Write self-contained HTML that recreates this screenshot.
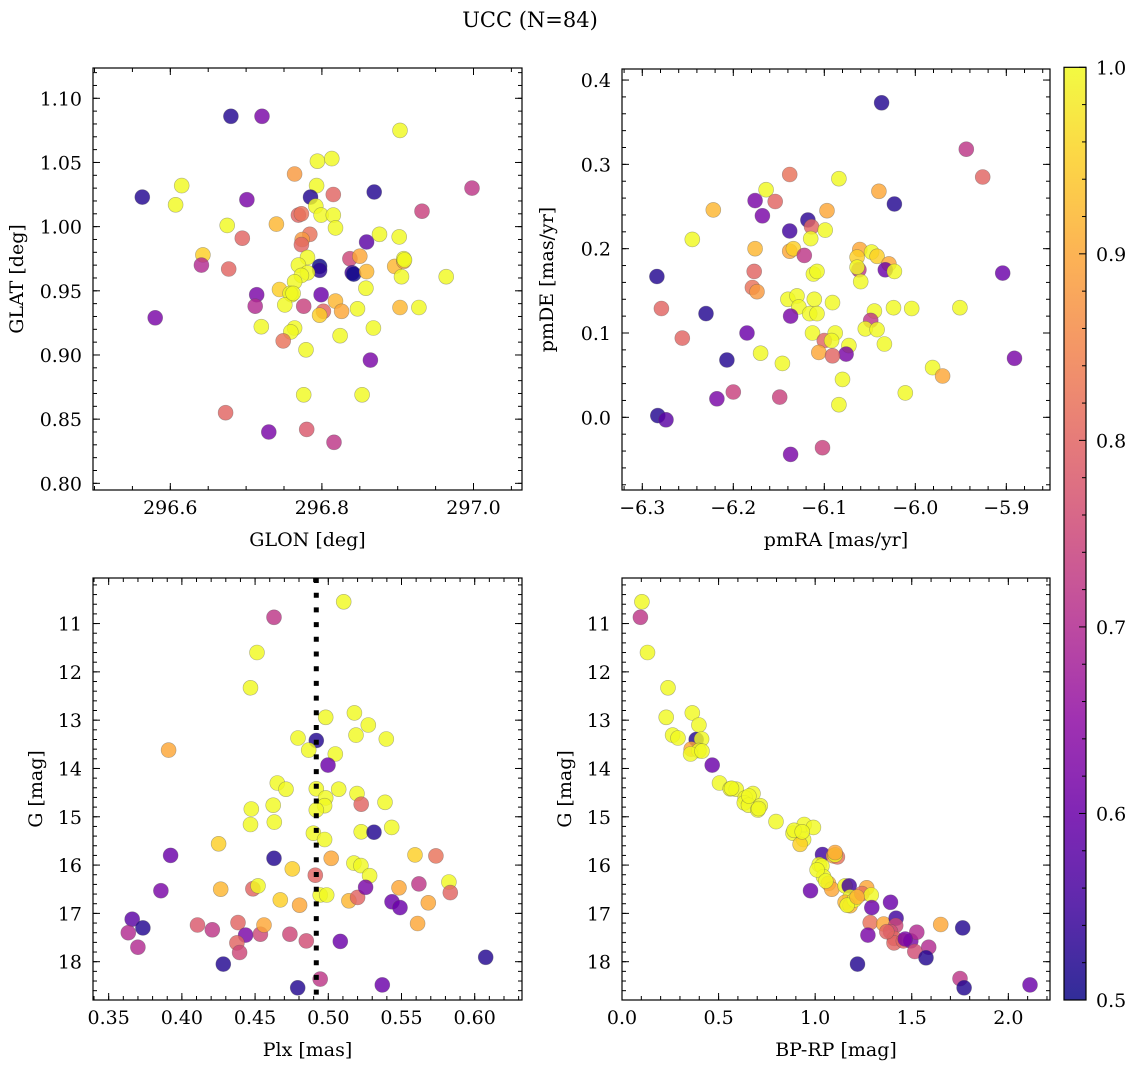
<!DOCTYPE html>
<html><head><meta charset="utf-8"><style>
html,body{margin:0;padding:0;background:#fff;}
svg{display:block;font-family:"DejaVu Serif","Liberation Serif",serif;}
</style></head><body>
<svg id="fig" width="1136" height="1067" viewBox="0 0 1136 1067" xmlns="http://www.w3.org/2000/svg">
<rect width="1136" height="1067" fill="#fff"/>
<text x="530" y="27" font-size="21" text-anchor="middle">UCC (N=84)</text>
</svg>
<script>
// ---------- Panel 1: GLON vs GLAT ----------
const glon = [296.680,296.721,296.903,296.794,296.813,296.764,296.615,296.793,296.563,296.607,296.701,296.785,296.815,296.869,296.998,296.792,296.769,296.773,296.799,296.815,296.818,296.932,296.675,296.740,296.695,296.784,296.774,296.773,296.859,296.876,296.902,296.643,296.641,296.677,296.781,296.769,296.797,296.797,296.781,296.773,296.764,296.837,296.850,296.840,296.842,296.859,296.896,296.908,296.908,296.905,296.964,296.744,296.760,296.758,296.858,296.714,296.799,296.712,296.751,296.776,296.802,296.797,296.818,296.826,296.847,296.903,296.928,296.580,296.720,296.764,296.759,296.749,296.824,296.868,296.779,296.864,296.776,296.853,296.673,296.730,296.780,296.816,296.909,296.762];
const glat = [1.086,1.086,1.075,1.051,1.053,1.041,1.032,1.032,1.023,1.017,1.021,1.023,1.025,1.027,1.030,1.016,1.009,1.010,1.009,1.009,0.999,1.012,1.001,1.002,0.991,0.994,0.990,0.986,0.988,0.994,0.992,0.978,0.970,0.967,0.976,0.970,0.969,0.966,0.964,0.962,0.957,0.975,0.977,0.964,0.963,0.965,0.969,0.973,0.975,0.961,0.961,0.951,0.947,0.948,0.952,0.947,0.947,0.938,0.939,0.938,0.934,0.931,0.942,0.934,0.936,0.937,0.937,0.929,0.922,0.921,0.918,0.911,0.915,0.921,0.904,0.896,0.869,0.869,0.855,0.840,0.842,0.832,0.974,0.948];
const prob1 = [.52,.62,1,1,1,.88,1,1,.52,1,.62,.52,.8,.52,.72,1,.8,.82,1,1,1,.74,1,.92,.8,.82,.88,.8,.58,1,1,.95,.7,.8,1,1,.5,.53,1,1,1,.75,.9,.55,.5,.92,.92,.9,1,1,1,.95,1,1,1,.62,.6,.7,1,.74,.8,.95,.92,.9,1,.92,1,.62,1,1,1,.82,1,1,1,.62,1,1,.8,.62,.78,.72,1,1];
// ---------- Panel 2: pmRA vs pmDE ----------
const pmra = [-6.037,-5.944,-5.926,-6.138,-6.084,-6.040,-6.023,-6.164,-6.176,-6.154,-6.222,-6.168,-6.118,-6.114,-6.097,-6.099,-6.138,-6.115,-6.245,-6.176,-6.138,-6.134,-6.122,-6.061,-6.048,-6.042,-6.064,-6.029,-6.033,-6.023,-6.062,-6.064,-6.060,-6.112,-6.108,-6.284,-6.177,-6.179,-6.174,-6.279,-6.230,-6.140,-6.130,-6.128,-6.111,-6.091,-6.137,-6.116,-6.108,-6.045,-6.024,-6.004,-5.951,-6.049,-6.055,-6.042,-6.034,-6.256,-6.185,-6.113,-6.088,-6.100,-6.092,-6.073,-6.076,-6.106,-6.091,-6.170,-6.146,-6.207,-6.080,-5.981,-5.970,-6.011,-5.904,-5.891,-6.200,-6.218,-6.149,-6.084,-6.283,-6.274,-6.137,-6.102];
const pmde = [0.373,0.318,0.285,0.288,0.283,0.268,0.253,0.270,0.257,0.256,0.246,0.239,0.234,0.226,0.245,0.222,0.221,0.212,0.211,0.200,0.197,0.200,0.192,0.199,0.196,0.191,0.190,0.182,0.175,0.173,0.175,0.178,0.161,0.170,0.173,0.167,0.173,0.154,0.149,0.129,0.123,0.140,0.144,0.131,0.140,0.136,0.120,0.123,0.123,0.126,0.130,0.129,0.130,0.115,0.105,0.104,0.087,0.094,0.100,0.100,0.100,0.091,0.091,0.085,0.075,0.077,0.073,0.076,0.064,0.068,0.045,0.059,0.049,0.029,0.171,0.070,0.030,0.022,0.024,0.015,0.002,-0.003,-0.044,-0.036];
const prob2 = [.52,.72,.8,.82,1,.9,.52,1,.62,.8,.92,.62,.53,.8,.9,1,.55,1,1,.92,.9,.95,.72,.9,1,.95,.95,.9,.6,1,.72,1,1,1,1,.52,.8,.82,.88,.8,.52,1,1,1,1,1,.62,1,1,1,1,1,1,.72,1,1,1,.8,.6,1,1,.8,1,1,.62,.9,.8,1,1,.52,1,1,.9,1,.6,.62,.74,.62,.74,1,.52,.58,.62,.74];
// ---------- Panel 3: Plx vs G ----------
const plx = [0.5105,0.4629,0.4513,0.4469,0.4982,0.5178,0.5273,0.5189,0.5396,0.4793,0.4918,0.4866,0.5048,0.4998,0.3909,0.4652,0.4711,0.4918,0.5071,0.4982,0.4975,0.4918,0.5196,0.5225,0.5387,0.4624,0.4474,0.4469,0.4631,0.4898,0.4975,0.5225,0.5312,0.5433,0.4251,0.3923,0.4629,0.5020,0.4754,0.4911,0.5175,0.5223,0.5282,0.5592,0.5735,0.3857,0.4265,0.4485,0.4520,0.4672,0.4804,0.4945,0.4989,0.5141,0.5200,0.5255,0.5435,0.5490,0.5483,0.5619,0.5683,0.5824,0.5833,0.5610,0.3661,0.3734,0.3634,0.3700,0.4107,0.4208,0.4383,0.4435,0.4536,0.4561,0.4376,0.4394,0.4283,0.4738,0.4850,0.5082,0.4791,0.4945,0.5369,0.6075];
const gmag3 = [10.55,10.87,11.60,12.33,12.94,12.85,13.10,13.31,13.39,13.37,13.42,13.62,13.70,13.93,13.62,14.30,14.43,14.42,14.43,14.61,14.77,14.86,14.52,14.74,14.70,14.76,14.84,15.16,15.11,15.34,15.47,15.31,15.32,15.22,15.56,15.80,15.86,15.86,16.08,16.21,15.96,16.01,16.22,15.79,15.81,16.53,16.50,16.49,16.43,16.72,16.83,16.62,16.62,16.74,16.67,16.46,16.76,16.88,16.47,16.39,16.78,16.35,16.57,17.21,17.12,17.30,17.40,17.70,17.24,17.34,17.19,17.45,17.43,17.24,17.61,17.81,18.05,17.43,17.57,17.58,18.54,18.36,18.48,17.91];
const prob3 = [1,.72,1,1,1,1,1,1,1,1,.52,1,1,.6,.9,1,1,1,1,1,1,1,1,.8,1,1,1,1,1,1,1,1,.52,1,.95,.6,.52,.9,.95,.8,1,1,1,.95,.82,.62,.92,.8,1,.95,.9,1,1,.92,.8,.62,.6,.6,.9,.72,.9,1,.8,.9,.58,.52,.7,.7,.78,.72,.8,.62,.75,.9,.8,.75,.52,.75,.76,.6,.52,.72,.6,.52];
const plxLine = [0.4918];
// ---------- Panel 4: BP-RP vs G ----------
const bprp = [0.103,0.095,0.132,0.238,0.229,0.364,0.398,0.262,0.290,0.384,0.412,0.358,0.398,0.355,0.467,0.505,0.560,0.591,0.678,0.638,0.633,0.655,0.716,0.703,0.797,0.943,0.991,0.885,0.940,0.922,1.038,1.095,1.115,1.021,1.035,1.043,1.069,1.086,0.976,1.155,1.176,1.181,1.155,1.181,1.203,1.267,1.242,1.290,1.293,1.390,1.285,1.355,1.419,1.417,1.390,1.410,1.408,1.457,1.495,1.526,1.273,1.588,1.516,1.574,1.219,1.650,1.764,1.750,1.771,2.112,0.414,0.567,0.657,0.707,0.891,0.933,1.010,1.055,1.166,1.103,1.217,1.371,1.466,1.103];
const gmag4 = [10.55,10.87,11.60,12.33,12.94,12.85,13.10,13.31,13.37,13.40,13.39,13.60,13.63,13.70,13.93,14.30,14.42,14.43,14.52,14.61,14.71,14.76,14.77,14.86,15.10,15.16,15.22,15.34,15.47,15.57,15.78,15.81,15.83,15.99,16.02,16.24,16.38,16.50,16.53,16.43,16.43,16.66,16.77,16.84,16.72,16.47,16.59,16.62,16.88,16.77,17.19,17.22,17.10,17.25,17.38,17.52,17.61,17.57,17.57,17.39,17.45,17.70,17.79,17.92,18.05,17.23,17.30,18.35,18.54,18.48,13.64,14.41,14.57,14.83,15.28,15.31,16.10,16.33,16.83,15.79,16.66,17.38,17.53,15.74];
const prob4 = [1,.72,1,1,1,1,1,1,1,.52,1,.9,1,1,.6,1,1,1,1,1,1,1,1,1,1,1,1,1,1,.95,.55,.9,.82,1,1,1,.92,.9,.6,1,.55,1,.92,.92,1,.9,.82,1,.6,.6,.82,.9,.55,.75,.76,.8,.8,.8,.62,.7,.62,.7,.76,.52,.52,.9,.52,.72,.52,.6,1,1,1,1,1,1,1,1,1,1,.92,.8,.62,.9];
// ---------- tick labels ----------
const p1xTicks = [296.6,296.8,297.0];
const p1yTicks = [0.80,0.85,0.90,0.95,1.00,1.05,1.10];
const p2xTicks = [-6.3,-6.2,-6.1,-6.0,-5.9];
const p2yTicks = [0.0,0.1,0.2,0.3,0.4];
const p3xTicks = [0.35,0.40,0.45,0.50,0.55,0.60];
const gTicks = [11,12,13,14,15,16,17,18];
const p4xTicks = [0.0,0.5,1.0,1.5,2.0];
const cbTicks = [0.5,0.6,0.7,0.8,0.9,1.0];

const NS = 'http://www.w3.org/2000/svg';
const svg = document.getElementById('fig');
const FS = 19;
function mk(tag, attrs, parent){const e=document.createElementNS(NS,tag);for(const k in attrs)e.setAttribute(k,attrs[k]);(parent||svg).appendChild(e);return e;}
function lin(d0,d1,r0,r1){return v=>r0+(v-d0)*(r1-r0)/(d1-d0);}
const PL=[[13,8,135],[65,4,157],[106,0,168],[143,13,164],[177,42,144],[204,71,120],[225,100,98],[242,132,75],[252,166,54],[252,206,37],[240,249,33]];
function plasma(t){t=Math.max(0,Math.min(1,t));const s=t*10,i=Math.min(9,Math.floor(s)),f=s-i;const a=PL[i],b=PL[i+1];return 'rgb('+[0,1,2].map(k=>Math.round(a[k]+(b[k]-a[k])*f)).join(',')+')';}
function pc(p){return plasma((p-0.5)/0.5);}
function fmt(v,d){return v.toFixed(d).replace('-','\u2212');}

function panel(o){
  const g=mk('g',{});
  
  
  const sx=lin(o.xd[0],o.xd[1],o.L,o.R), sy=lin(o.yd[0],o.yd[1],o.B,o.T);
  const clip=mk('clipPath',{id:'c'+o.name},g); mk('rect',{x:o.L,y:o.T,width:o.R-o.L,height:o.B-o.T},clip);
  const pts=mk('g',{'clip-path':'url(#c'+o.name+')'},g);
  
  
  for(let i=0;i<o.xs.length;i++){
    const c=mk('circle',{cx:sx(o.xs[i]).toFixed(1),cy:sy(o.ys[i]).toFixed(1),r:7.5,fill:pc(o.ps[i]),'fill-opacity':0.82,stroke:'#555','stroke-opacity':0.45,'stroke-width':0.6},pts);
    
    
  }
  if(o.vline){for(const v of o.vline){const l=mk('line',{x1:sx(v),x2:sx(v),y1:o.T,y2:o.B,stroke:'#000','stroke-width':5,'stroke-dasharray':'5,9.7'},g);
    
    }}
  const tk=mk('g',{stroke:'#000','stroke-width':1},g);
  function xt(v,len){const x=sx(v);if(x<o.L-0.5||x>o.R+0.5)return;mk('line',{x1:x,x2:x,y1:o.B,y2:o.B-len},tk);mk('line',{x1:x,x2:x,y1:o.T,y2:o.T+len},tk);}
  function yt(v,len){const y=sy(v);if(y<o.T-0.5||y>o.B+0.5)return;mk('line',{x1:o.L,x2:o.L+len,y1:y,y2:y},tk);mk('line',{x1:o.R,x2:o.R-len,y1:y,y2:y},tk);}
  const xa=Math.min(o.xd[0],o.xd[1]),xb=Math.max(o.xd[0],o.xd[1]);
  for(let k=Math.ceil(xa/o.xmin-1e-6);k*o.xmin<=xb+1e-9;k++)xt(k*o.xmin,4);
  const ya=Math.min(o.yd[0],o.yd[1]),yb=Math.max(o.yd[0],o.yd[1]);
  for(let k=Math.ceil(ya/o.ymin-1e-6);k*o.ymin<=yb+1e-9;k++)yt(k*o.ymin,4);
  o.xt.forEach(v=>xt(v,7)); o.yt.forEach(v=>yt(v,7));
  o.xt.forEach(v=>{const t=mk('text',{x:sx(v),y:o.B+24,'font-size':FS,'text-anchor':'middle'},g);t.textContent=fmt(v,o.xdec);
    });
  o.yt.forEach(v=>{const t=mk('text',{x:o.L-11,y:sy(v)+7,'font-size':FS,'text-anchor':'end'},g);t.textContent=fmt(v,o.ydec);
    });
  mk('rect',{x:o.L,y:o.T,width:o.R-o.L,height:o.B-o.T,fill:'none',stroke:'#000','stroke-width':1.2},g);
  const xl=mk('text',{x:(o.L+o.R)/2,y:o.B+56,'font-size':FS,'text-anchor':'middle'},g);xl.textContent=o.xlab;
  
  const cy=(o.T+o.B)/2;const yl=mk('text',{x:o.ylx,y:cy,'font-size':FS,'text-anchor':'middle',transform:'rotate(-90 '+o.ylx+' '+cy+')'},g);yl.textContent=o.ylab;
  
}
panel({name:'glon-glat-panel',L:93,R:522,T:68,B:490,xd:[296.498,297.064],yd:[0.7948,1.1236],xs:glon,ys:glat,ps:prob1,xt:p1xTicks,yt:p1yTicks,xmin:0.05,ymin:0.01,xdec:1,ydec:2,xlab:'GLON [deg]',ylab:'GLAT [deg]',ylx:23});
panel({name:'pm-panel',L:622,R:1050,T:69,B:490,xd:[-6.3223,-5.8520],yd:[-0.0862,0.4131],xs:pmra,ys:pmde,ps:prob2,xt:p2xTicks,yt:p2yTicks,xmin:0.02,ymin:0.02,xdec:1,ydec:1,xlab:'pmRA [mas/yr]',ylab:'pmDE [mas/yr]',ylx:553});
panel({name:'plx-g-panel',L:93,R:522,T:578,B:1000,xd:[0.3393,0.6323],yd:[18.793,10.057],xs:plx,ys:gmag3,ps:prob3,xt:p3xTicks,yt:gTicks,xmin:0.01,ymin:0.2,xdec:2,ydec:0,xlab:'Plx [mas]',ylab:'G [mag]',ylx:42,vline:plxLine});
panel({name:'cmd-panel',L:622,R:1050,T:578,B:1000,xd:[0.0,2.2157],yd:[18.793,10.057],xs:bprp,ys:gmag4,ps:prob4,xt:p4xTicks,yt:gTicks,xmin:0.1,ymin:0.2,xdec:1,ydec:0,xlab:'BP-RP [mag]',ylab:'G [mag]',ylx:571});

const cb=mk('g',{});


const defs=mk('defs',{},cb);const gr=mk('linearGradient',{id:'cbg',x1:0,y1:1,x2:0,y2:0},defs);
for(let i=0;i<=20;i++){mk('stop',{offset:(i/20),'stop-color':plasma(i/20),'stop-opacity':0.85},gr);}
const CT=67.3,CB=1000,CL=1064,CR=1086;const cs=lin(0.5,1.0,CB,CT);
mk('rect',{x:CL,y:CT,width:CR-CL,height:CB-CT,fill:'url(#cbg)',stroke:'#000','stroke-width':1.2},cb);
for(let k=25;k<=50;k++){const v=k*0.02,y=cs(v);const major=(k%5===0);mk('line',{x1:CR,x2:CR-(major?7:4),y1:y,y2:y,stroke:'#000','stroke-width':1},cb);}
cbTicks.forEach(v=>{const t=mk('text',{x:CR+10,y:cs(v)+7,'font-size':FS},cb);t.textContent=v.toFixed(1);
  });
</script>
</body></html>
